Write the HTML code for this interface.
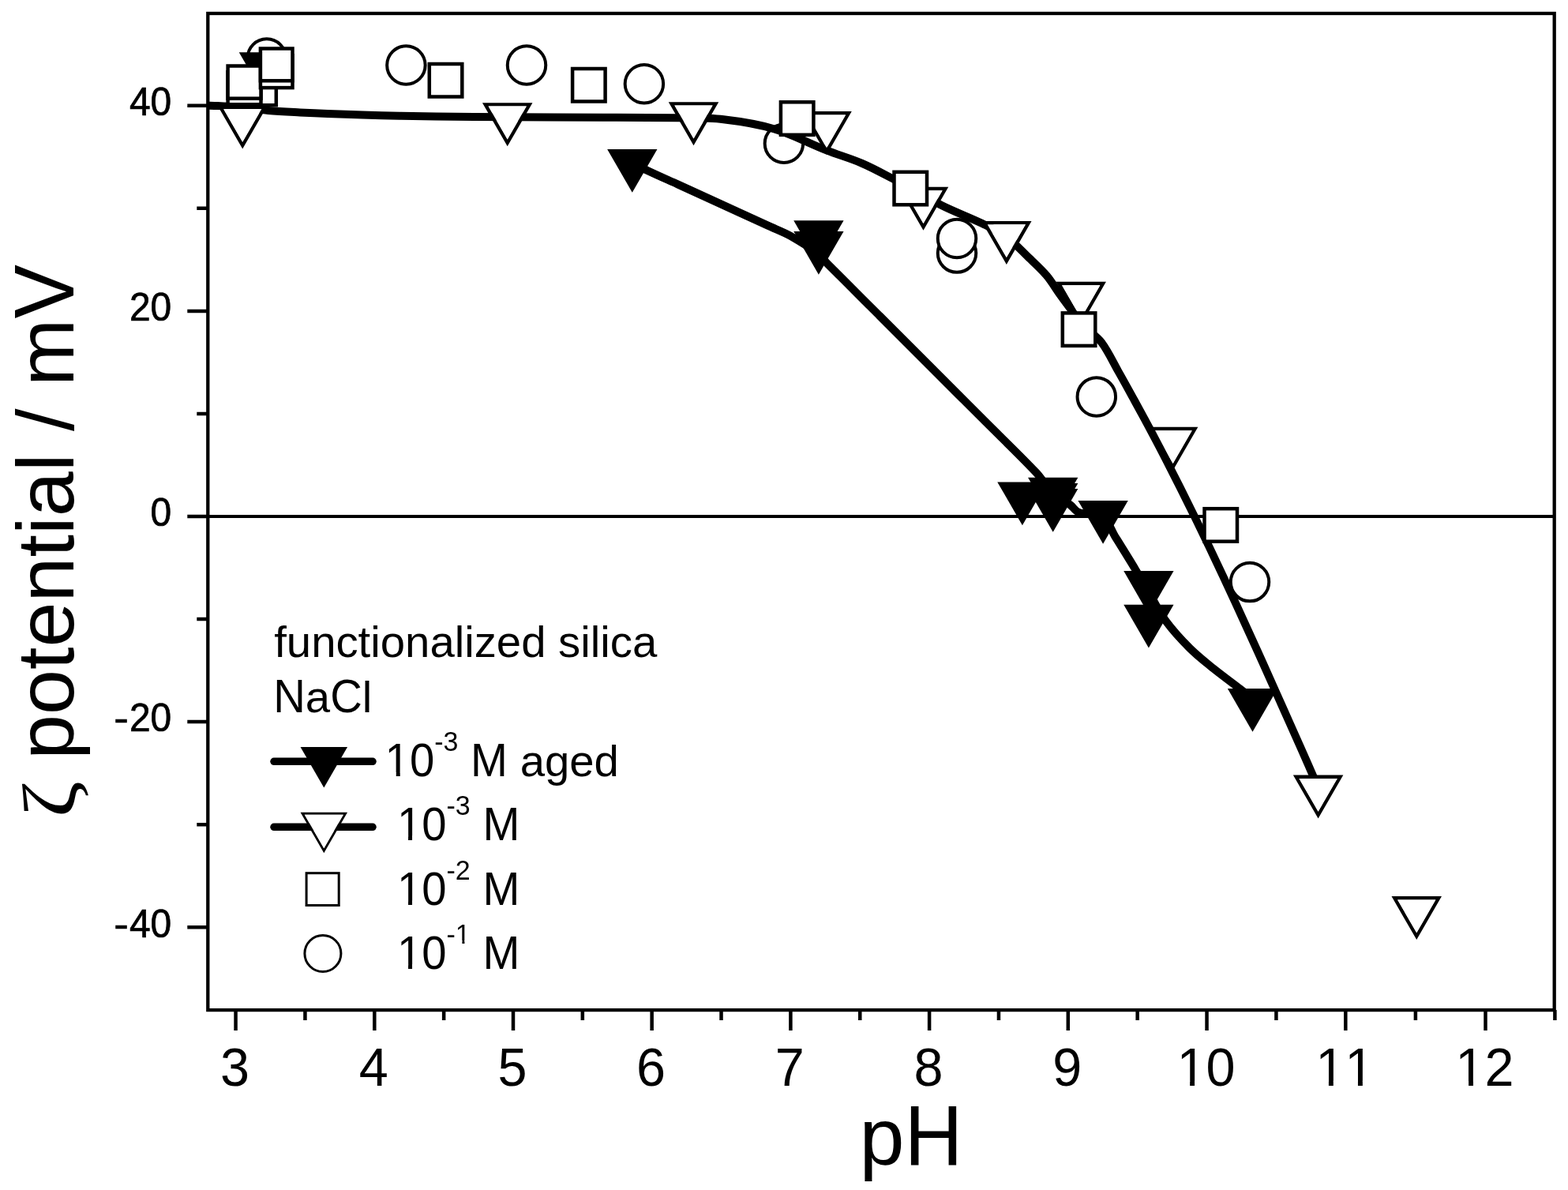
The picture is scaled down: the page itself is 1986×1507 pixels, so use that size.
<!DOCTYPE html>
<html><head><meta charset="utf-8"><title>zeta potential vs pH</title>
<style>html,body{margin:0;padding:0;background:#fff;overflow:hidden}svg{display:block}</style>
</head><body>
<svg width="1986" height="1507" viewBox="0 0 1986 1507">
<defs><clipPath id="c1_66_6" clipPathUnits="userSpaceOnUse"><rect x="-33.30" y="-133.20" width="133.20" height="127.32"/><rect x="16.75" y="-66.60" width="5.89" height="106.56"/></clipPath><clipPath id="c1_56_3" clipPathUnits="userSpaceOnUse"><rect x="-28.15" y="-112.60" width="112.60" height="107.49"/><rect x="14.16" y="-56.30" width="4.98" height="90.08"/></clipPath><clipPath id="c1_34" clipPathUnits="userSpaceOnUse"><rect x="-17.00" y="-68.00" width="68.00" height="64.56"/><rect x="8.55" y="-34.00" width="3.00" height="54.40"/></clipPath></defs>
<rect x="0" y="0" width="1986" height="1507" fill="#fff"/>
<line x1="263" y1="654" x2="1968.5" y2="654" stroke="#000" stroke-width="4"/>
<path d="M1453.85,540.80 L1517.35,540.80 L1485.60,595.79 Z M1461.47,545.20 L1509.73,545.20 L1485.60,586.99 Z" fill="#000" fill-rule="evenodd"/><polygon points="1461.47,545.20 1509.73,545.20 1485.60,586.99" fill="#fff"/>
<circle cx="337.8" cy="73.5" r="24.25" fill="#fff" stroke="#000" stroke-width="4.0"/>
<circle cx="514.4" cy="82.5" r="24.25" fill="#fff" stroke="#000" stroke-width="4.0"/>
<circle cx="667.0" cy="82.5" r="24.25" fill="#fff" stroke="#000" stroke-width="4.0"/>
<circle cx="815.9" cy="106.3" r="24.25" fill="#fff" stroke="#000" stroke-width="4.0"/>
<circle cx="992.9" cy="181.8" r="24.25" fill="#fff" stroke="#000" stroke-width="4.0"/>
<circle cx="1212.0" cy="320.6" r="24.25" fill="#fff" stroke="#000" stroke-width="4.0"/>
<circle cx="1212.0" cy="302.0" r="24.25" fill="#fff" stroke="#000" stroke-width="4.0"/>
<circle cx="1388.8" cy="502.4" r="24.25" fill="#fff" stroke="#000" stroke-width="4.0"/>
<circle cx="1583.0" cy="737.1" r="24.25" fill="#fff" stroke="#000" stroke-width="4.0"/>
<path d="M263.0,133.4 C275.3,134.1 287.7,134.4 300.0,135.5 C313.4,136.6 326.6,138.8 340.0,140.0 C353.3,141.1 366.7,141.7 380.0,142.4 C391.7,143.0 403.3,143.5 415.0,143.9 C429.7,144.5 444.3,144.9 459.0,145.4 C474.7,145.9 490.3,146.4 506.0,146.7 C537.3,147.3 568.7,147.7 600.0,148.0 C633.3,148.3 666.7,148.4 700.0,148.6 C753.3,148.9 806.7,148.6 860.0,149.3 C878.8,149.5 897.8,149.1 916.5,151.3 C938.2,153.8 960.1,157.2 981.0,163.5 C1003.8,170.3 1025.2,181.9 1047.5,190.6 C1062.1,196.3 1077.4,200.6 1091.8,206.8 C1104.9,212.4 1117.4,219.3 1130.0,225.9 C1151.0,237.0 1171.3,249.4 1192.5,260.0 C1209.5,268.5 1227.5,275.0 1244.6,283.3 C1254.9,288.3 1265.6,293.2 1274.8,300.0 C1285.1,307.6 1293.9,317.4 1303.2,326.4 C1310.9,333.8 1318.8,340.9 1325.7,349.0 C1331.6,356.0 1336.2,364.0 1341.5,371.5 C1345.6,377.2 1349.7,382.8 1353.9,388.4 C1360.2,396.7 1366.0,405.4 1373.0,413.0 C1379.7,420.3 1388.9,425.5 1394.9,433.3 C1403.4,444.5 1409.3,457.8 1416.3,470.1 C1423.3,482.3 1430.0,494.7 1436.8,507.0 C1443.5,519.2 1450.2,531.5 1456.8,543.8 C1463.3,556.0 1469.7,568.4 1476.1,580.7 C1482.4,592.9 1488.6,605.2 1494.8,617.5 C1501.0,629.8 1507.1,642.1 1513.1,654.4 C1519.1,666.6 1525.0,678.9 1530.9,691.2 C1536.8,703.5 1542.6,715.8 1548.4,728.1 C1554.1,740.3 1559.8,752.6 1565.5,764.9 C1571.2,777.2 1576.8,789.5 1582.4,801.8 C1588.0,814.1 1593.6,826.3 1599.1,838.6 C1604.6,850.9 1610.1,863.2 1615.6,875.5 C1621.1,887.8 1626.5,900.0 1632.0,912.3 C1637.5,924.6 1643.0,936.9 1648.5,949.2 C1653.8,961.3 1659.1,973.4 1664.4,985.5" fill="none" stroke="#000" stroke-width="10" stroke-linejoin="round"/>
<path d="M275.45,133.50 L338.95,133.50 L307.20,188.49 Z M283.07,137.90 L331.33,137.90 L307.20,179.69 Z" fill="#000" fill-rule="evenodd"/><polygon points="283.07,137.90 331.33,137.90 307.20,179.69" fill="#fff"/>
<path d="M610.95,130.20 L674.45,130.20 L642.70,185.19 Z M618.57,134.60 L666.83,134.60 L642.70,176.39 Z" fill="#000" fill-rule="evenodd"/><polygon points="618.57,134.60 666.83,134.60 642.70,176.39" fill="#fff"/>
<path d="M846.75,129.20 L910.25,129.20 L878.50,184.19 Z M854.37,133.60 L902.63,133.60 L878.50,175.39 Z" fill="#000" fill-rule="evenodd"/><polygon points="854.37,133.60 902.63,133.60 878.50,175.39" fill="#fff"/>
<path d="M1015.25,141.00 L1078.75,141.00 L1047.00,195.99 Z M1022.87,145.40 L1071.13,145.40 L1047.00,187.19 Z" fill="#000" fill-rule="evenodd"/><polygon points="1022.87,145.40 1071.13,145.40 1047.00,187.19" fill="#fff"/>
<path d="M1137.75,236.80 L1201.25,236.80 L1169.50,291.79 Z M1145.37,241.20 L1193.63,241.20 L1169.50,282.99 Z" fill="#000" fill-rule="evenodd"/><polygon points="1145.37,241.20 1193.63,241.20 1169.50,282.99" fill="#fff"/>
<path d="M1243.05,279.90 L1306.55,279.90 L1274.80,334.89 Z M1250.67,284.30 L1298.93,284.30 L1274.80,326.09 Z" fill="#000" fill-rule="evenodd"/><polygon points="1250.67,284.30 1298.93,284.30 1274.80,326.09" fill="#fff"/>
<path d="M1337.45,356.80 L1400.95,356.80 L1369.20,411.79 Z M1345.07,361.20 L1393.33,361.20 L1369.20,402.99 Z" fill="#000" fill-rule="evenodd"/><polygon points="1345.07,361.20 1393.33,361.20 1369.20,402.99" fill="#fff"/>
<path d="M1637.85,981.50 L1701.35,981.50 L1669.60,1036.49 Z M1645.47,985.90 L1693.73,985.90 L1669.60,1027.69 Z" fill="#000" fill-rule="evenodd"/><polygon points="1645.47,985.90 1693.73,985.90 1669.60,1027.69" fill="#fff"/>
<path d="M1762.50,1135.10 L1826.00,1135.10 L1794.25,1190.09 Z M1770.12,1139.50 L1818.38,1139.50 L1794.25,1181.29 Z" fill="#000" fill-rule="evenodd"/><polygon points="1770.12,1139.50 1818.38,1139.50 1794.25,1181.29" fill="#fff"/>
<path d="M800.8,206.0 C807.2,209.3 813.5,212.9 820.0,216.0 C832.7,222.0 845.5,227.6 858.3,233.4 C871.1,239.2 883.8,245.1 896.6,250.9 C909.3,256.7 922.1,262.6 934.8,268.4 C947.6,274.2 960.3,280.1 973.1,285.9 C982.7,290.3 992.7,293.9 1001.8,299.1 C1013.9,306.0 1025.8,313.6 1036.9,322.0 C1041.2,325.2 1044.2,330.0 1048.0,333.9 C1069.9,356.0 1092.0,377.9 1114.0,399.9 C1136.0,421.9 1158.0,443.9 1180.0,465.9 C1202.1,488.0 1224.3,510.2 1246.4,532.3 C1268.5,554.4 1291.3,576.0 1312.7,598.7 C1320.4,606.9 1325.7,617.4 1333.7,625.0 C1340.0,631.0 1348.7,634.4 1355.8,639.6 C1359.4,642.3 1361.8,647.1 1365.9,648.6 C1375.5,652.2 1388.9,649.7 1397.0,655.0 C1404.2,659.7 1407.1,670.8 1412.0,678.8 C1420.7,692.8 1429.5,706.9 1438.0,721.0 C1443.8,730.6 1449.3,740.3 1455.0,750.0 C1462.1,762.1 1468.2,775.0 1476.5,786.3 C1485.5,798.5 1495.9,809.9 1506.7,820.6 C1516.1,830.0 1526.6,838.3 1537.0,846.7 C1547.9,855.5 1559.3,863.8 1570.5,872.3 C1576.0,876.5 1581.5,880.8 1587.0,885.0" fill="none" stroke="#000" stroke-width="10" stroke-linejoin="round"/>
<polygon points="302.75,66.30 366.05,66.30 334.40,121.12" fill="#000"/>
<polygon points="769.15,188.90 832.45,188.90 800.80,243.72" fill="#000"/>
<polygon points="1005.25,279.30 1068.55,279.30 1036.90,334.12" fill="#000"/>
<polygon points="1005.25,293.00 1068.55,293.00 1036.90,347.82" fill="#000"/>
<polygon points="1263.25,610.40 1326.55,610.40 1294.90,665.22" fill="#000"/>
<polygon points="1302.05,604.80 1365.35,604.80 1333.70,659.62" fill="#000"/>
<polygon points="1302.05,612.00 1365.35,612.00 1333.70,666.82" fill="#000"/>
<polygon points="1302.05,619.00 1365.35,619.00 1333.70,673.82" fill="#000"/>
<polygon points="1365.45,634.00 1428.75,634.00 1397.10,688.82" fill="#000"/>
<polygon points="1423.25,723.10 1486.55,723.10 1454.90,777.92" fill="#000"/>
<polygon points="1423.25,765.80 1486.55,765.80 1454.90,820.62" fill="#000"/>
<polygon points="1554.85,871.90 1618.15,871.90 1586.50,926.72" fill="#000"/>
<rect x="308.8" y="92.2" width="41.0" height="41.0" fill="#fff" stroke="#000" stroke-width="4.5"/>
<rect x="288.6" y="91.2" width="41.9" height="41.1" fill="#fff" stroke="#000" stroke-width="4.5"/>
<rect x="288.6" y="83.5" width="41.9" height="41.2" fill="#fff" stroke="#000" stroke-width="4.5"/>
<rect x="329.9" y="70.2" width="40.6" height="40.9" fill="#fff" stroke="#000" stroke-width="4.5"/>
<rect x="329.9" y="61.5" width="40.6" height="40.8" fill="#fff" stroke="#000" stroke-width="4.5"/>
<rect x="543.8" y="81.0" width="41.5" height="41.5" fill="#fff" stroke="#000" stroke-width="4.5"/>
<rect x="725.1" y="87.0" width="41.5" height="41.5" fill="#fff" stroke="#000" stroke-width="4.5"/>
<rect x="988.9" y="129.3" width="41.5" height="41.5" fill="#fff" stroke="#000" stroke-width="4.5"/>
<rect x="1132.5" y="217.8" width="41.5" height="41.5" fill="#fff" stroke="#000" stroke-width="4.5"/>
<rect x="1345.8" y="396.4" width="41.5" height="41.5" fill="#fff" stroke="#000" stroke-width="4.5"/>
<rect x="1525.5" y="644.2" width="41.5" height="41.5" fill="#fff" stroke="#000" stroke-width="4.5"/>
<rect x="263.3" y="17.0" width="1705.4" height="1262.1" fill="none" stroke="#000" stroke-width="4.3"/>
<path d="M298.55,1279.1 V1305.1 M474.30,1279.1 V1305.1 M650.00,1279.1 V1305.1 M825.65,1279.1 V1305.1 M1001.40,1279.1 V1305.1 M1177.10,1279.1 V1305.1 M1352.80,1279.1 V1305.1 M1528.55,1279.1 V1305.1 M1704.30,1279.1 V1305.1 M1881.50,1279.1 V1305.1 M386.43,1279.1 V1292.1 M562.15,1279.1 V1292.1 M737.83,1279.1 V1292.1 M913.52,1279.1 V1292.1 M1089.25,1279.1 V1292.1 M1264.95,1279.1 V1292.1 M1440.67,1279.1 V1292.1 M1616.42,1279.1 V1292.1 M1792.90,1279.1 V1292.1 M1969.40,1279.1 V1292.1 M263.3,1174.20 H237.3 M263.3,914.10 H237.3 M263.3,654.00 H237.3 M263.3,393.90 H237.3 M263.3,133.80 H237.3 M263.3,1044.15 H249.3 M263.3,784.05 H249.3 M263.3,523.95 H249.3 M263.3,263.85 H249.3" stroke="#000" stroke-width="4.5" fill="none"/>
<g font-family="'Liberation Sans',Arial,Helvetica,sans-serif" fill="#000" style="font-kerning:none">
<g stroke="#000" stroke-width="0.7">
<text transform="translate(163.91,1186.50) scale(1,1.035)" font-size="48" xml:space="preserve">40</text>
<text transform="translate(144.31,1186.50) scale(1.16,1.035)" font-size="48">-</text>
<text transform="translate(163.91,926.40) scale(1,1.035)" font-size="48" xml:space="preserve">20</text>
<text transform="translate(144.31,926.40) scale(1.16,1.035)" font-size="48">-</text>
<text transform="translate(190.60,666.30) scale(1,1.035)" font-size="48" xml:space="preserve">0</text>
<text transform="translate(163.91,406.20) scale(1,1.035)" font-size="48" xml:space="preserve">20</text>
<text transform="translate(163.91,146.10) scale(1,1.035)" font-size="48" xml:space="preserve">40</text>
</g>
<text transform="translate(278.93,1374.90) scale(1,1.0407)" font-size="66.6" xml:space="preserve">3</text>
<text transform="translate(454.68,1374.90) scale(1,1.0407)" font-size="66.6" xml:space="preserve">4</text>
<text transform="translate(630.38,1374.90) scale(1,1.0407)" font-size="66.6" xml:space="preserve">5</text>
<text transform="translate(806.03,1374.90) scale(1,1.0407)" font-size="66.6" xml:space="preserve">6</text>
<text transform="translate(981.78,1374.90) scale(1,1.0407)" font-size="66.6" xml:space="preserve">7</text>
<text transform="translate(1157.48,1374.90) scale(1,1.0407)" font-size="66.6" xml:space="preserve">8</text>
<text transform="translate(1333.18,1374.90) scale(1,1.0407)" font-size="66.6" xml:space="preserve">9</text>
<text transform="translate(1490.41,1374.90) scale(1,1.0407)" font-size="66.6" clip-path="url(#c1_66_6)" xml:space="preserve">1</text>
<text transform="translate(1527.45,1374.90) scale(1,1.0407)" font-size="66.6" xml:space="preserve">0</text>
<text transform="translate(1666.16,1374.90) scale(1,1.0407)" font-size="66.6" clip-path="url(#c1_66_6)" xml:space="preserve">1</text>
<text transform="translate(1703.20,1374.90) scale(1,1.0407)" font-size="66.6" clip-path="url(#c1_66_6)" xml:space="preserve">1</text>
<text transform="translate(1843.36,1374.90) scale(1,1.0407)" font-size="66.6" clip-path="url(#c1_66_6)" xml:space="preserve">1</text>
<text transform="translate(1880.40,1374.90) scale(1,1.0407)" font-size="66.6" xml:space="preserve">2</text>
<text transform="translate(1088.60,1474.70) scale(1,1.0)" font-size="102.5" xml:space="preserve">p</text>
<text transform="translate(1145.61,1474.70) scale(1,1.0407)" font-size="102.5" xml:space="preserve">H</text>
<text transform="translate(92.90,990.44) rotate(-90) scale(1,1.0)" font-size="102.5" xml:space="preserve"> potential / m</text>
<text transform="translate(92.90,403.62) rotate(-90) scale(1,1.0407)" font-size="102.5" xml:space="preserve">V</text>
<text transform="translate(95.4,1035.3) rotate(-90) scale(1.075,0.92)" font-size="104" font-family="'Liberation Serif',serif">&#950;</text>
<text transform="translate(347.20,832.00) scale(1,1.0)" font-size="56.3" xml:space="preserve">functionalized silica</text>
<text transform="translate(346.20,901.60) scale(1,1.0407)" font-size="56.3" xml:space="preserve">N</text>
<text transform="translate(386.86,901.60) scale(1,1.0)" font-size="56.3" xml:space="preserve">a</text>
<text transform="translate(418.17,901.60) scale(1,1.0407)" font-size="56.3" xml:space="preserve">C</text>
<text transform="translate(458.83,901.60) scale(1,1.0)" font-size="56.3" xml:space="preserve">l</text>
<text transform="translate(487.60,983.30) scale(1,1.0407)" font-size="56.3" clip-path="url(#c1_56_3)" xml:space="preserve">1</text>
<text transform="translate(518.91,983.30) scale(1,1.0407)" font-size="56.3" xml:space="preserve">0</text>
<text transform="translate(550.22,951.40) scale(1,1.0407)" font-size="34" xml:space="preserve">-3</text>
<text transform="translate(580.45,983.30) scale(1,1.0407)" font-size="56.3" xml:space="preserve"> M</text>
<text transform="translate(642.99,983.30) scale(1,1.0)" font-size="56.3" xml:space="preserve"> aged</text>
<text transform="translate(502.90,1063.50) scale(1,1.0407)" font-size="56.3" clip-path="url(#c1_56_3)" xml:space="preserve">1</text>
<text transform="translate(534.21,1063.50) scale(1,1.0407)" font-size="56.3" xml:space="preserve">0</text>
<text transform="translate(565.52,1031.60) scale(1,1.0407)" font-size="34" xml:space="preserve">-3</text>
<text transform="translate(595.75,1063.50) scale(1,1.0407)" font-size="56.3" xml:space="preserve"> M</text>
<text transform="translate(502.90,1145.70) scale(1,1.0407)" font-size="56.3" clip-path="url(#c1_56_3)" xml:space="preserve">1</text>
<text transform="translate(534.21,1145.70) scale(1,1.0407)" font-size="56.3" xml:space="preserve">0</text>
<text transform="translate(565.52,1113.80) scale(1,1.0407)" font-size="34" xml:space="preserve">-2</text>
<text transform="translate(595.75,1145.70) scale(1,1.0407)" font-size="56.3" xml:space="preserve"> M</text>
<text transform="translate(502.90,1226.50) scale(1,1.0407)" font-size="56.3" clip-path="url(#c1_56_3)" xml:space="preserve">1</text>
<text transform="translate(534.21,1226.50) scale(1,1.0407)" font-size="56.3" xml:space="preserve">0</text>
<text transform="translate(565.52,1194.60) scale(1,1.0407)" font-size="34" xml:space="preserve">-</text>
<text transform="translate(576.85,1194.60) scale(1,1.0407)" font-size="34" clip-path="url(#c1_34)" xml:space="preserve">1</text>
<text transform="translate(595.75,1226.50) scale(1,1.0407)" font-size="56.3" xml:space="preserve"> M</text>
</g>
<line x1="347" y1="964.3" x2="472" y2="964.3" stroke="#000" stroke-width="9.5" stroke-linecap="round"/>
<polygon points="380.55,946.00 440.05,946.00 410.30,997.53" fill="#000"/>
<line x1="347" y1="1047.3" x2="472" y2="1047.3" stroke="#000" stroke-width="9.5" stroke-linecap="round"/>
<path d="M380.55,1028.80 L440.05,1028.80 L410.30,1080.33 Z M385.75,1031.80 L434.85,1031.80 L410.30,1074.33 Z" fill="#000" fill-rule="evenodd"/><polygon points="385.75,1031.80 434.85,1031.80 410.30,1074.33" fill="#fff"/>
<rect x="388.1" y="1105.7" width="41.1" height="40.8" fill="#fff" stroke="#000" stroke-width="3"/>
<circle cx="408.9" cy="1207.5" r="23.00" fill="#fff" stroke="#000" stroke-width="3"/>
</svg>
</body></html>
